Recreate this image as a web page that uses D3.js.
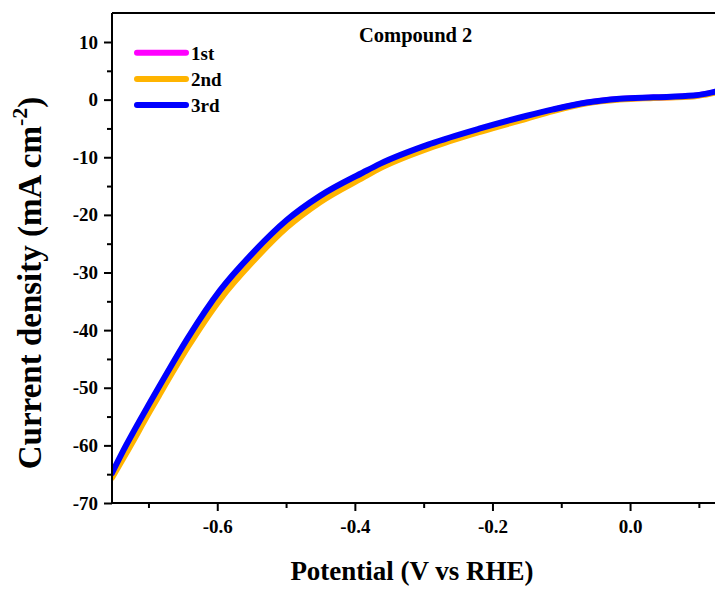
<!DOCTYPE html>
<html>
<head>
<meta charset="utf-8">
<script src="https://cdn.jsdelivr.net/npm/d3@7"></script>
<style>
  body { margin: 0; background: #fff; }
  svg { display: block; font-family: "Liberation Serif", "Times New Roman", serif; font-weight: bold; }
</style>
</head>
<body>
<div id="chart"></div>
<script>
// potentials (V vs RHE)
const potential = [-0.753, -0.733, -0.698, -0.684, -0.642, -0.596, -0.5475, -0.499, -0.4506,
  -0.3876, -0.363, -0.291, -0.218, -0.150, -0.112, -0.063, -0.015, 0.034, 0.092, 0.111, 0.124];
// current density (mA cm-2) per cycle
const cycle1 = [-65.2, -60.8, -53.3, -50.4, -42.0, -33.9, -27.2, -21.5, -17.2,
  -13.0, -11.4, -8.0, -5.3, -3.0, -1.8, -0.55, 0.1, 0.35, 0.62, 1.0, 1.3];
const cycle2 = [-65.6, -61.5, -54.1, -51.2, -42.8, -34.7, -28.0, -22.2, -17.8,
  -13.5, -11.9, -8.4, -5.6, -3.3, -2.0, -0.65, 0.0, 0.3, 0.55, 0.9, 1.2];
const cycle3 = [-64.8, -60.1, -52.6, -49.7, -41.2, -33.1, -26.5, -20.9, -16.7,
  -12.6, -11.1, -7.7, -5.0, -2.8, -1.7, -0.5, 0.15, 0.4, 0.7, 1.05, 1.4];

const seriesNames = ['1st', '2nd', '3rd'];
const seriesColors = ['#ff00ff', '#ffb400', '#0000ff'];
const seriesValues = [cycle1, cycle2, cycle3];

const xMajor = [-0.6, -0.4, -0.2, 0.0];
const xMinor = [-0.7, -0.5, -0.3, -0.1, 0.1];
const yMajor = [10, 0, -10, -20, -30, -40, -50, -60, -70];
const yMinor = [5, -5, -15, -25, -35, -45, -55, -65];

const width = 715, height = 589;
const plotLeft = 112, plotTop = 13, plotBottom = 503;

const x = d3.scaleLinear().domain([-0.753, 0.2]).range([plotLeft, plotLeft + 0.953 * 688]);
const y = d3.scaleLinear().domain([-70, 15]).range([plotBottom, plotBottom - 85 * 5.7625]);

// plain hyphen for negatives, like the original
const hyphen = f => d => f(d).replace('\u2212', '-');

const svg = d3.select('#chart').append('svg')
  .attr('width', width).attr('height', height);

svg.append('clipPath').attr('id', 'plotClip')
  .append('rect').attr('x', plotLeft).attr('y', plotTop)
  .attr('width', width - plotLeft).attr('height', plotBottom - plotTop);

// curves, 1st drawn first so 3rd sits on top
const line = d3.line()
  .x(d => x(d[0])).y(d => y(d[1]))
  .curve(d3.curveMonotoneX);

const curves = svg.append('g').attr('clip-path', 'url(#plotClip)');
seriesValues.forEach((vals, i) => {
  curves.append('path')
    .datum(potential.map((p, k) => [p, vals[k]]))
    .attr('d', line)
    .attr('fill', 'none')
    .attr('stroke', seriesColors[i])
    .attr('stroke-width', 6)
    .attr('stroke-linecap', 'round')
    .attr('stroke-linejoin', 'round');
});

// frame
svg.append('line').attr('x1', plotLeft).attr('x2', width).attr('y1', plotTop).attr('y2', plotTop)
  .attr('stroke', '#000').attr('stroke-width', 2);

// x axis
const xAxis = svg.append('g').attr('transform', `translate(0,${plotBottom})`)
  .call(d3.axisBottom(x).tickValues(xMajor).tickFormat(hyphen(d3.format('.1f'))).tickSize(8).tickPadding(9));
svg.append('g').attr('transform', `translate(0,${plotBottom})`)
  .call(d3.axisBottom(x).tickValues(xMinor).tickFormat('').tickSize(5))
  .call(g => g.select('.domain').remove());

// y axis
const yAxis = svg.append('g').attr('transform', `translate(${plotLeft},0)`)
  .call(d3.axisLeft(y).tickValues(yMajor).tickFormat(hyphen(d3.format('d'))).tickSize(8).tickPadding(6));
svg.append('g').attr('transform', `translate(${plotLeft},0)`)
  .call(d3.axisLeft(y).tickValues(yMinor).tickFormat('').tickSize(5))
  .call(g => g.select('.domain').remove());

xAxis.select('.domain').attr('d', `M${plotLeft},0H${width}`);
yAxis.select('.domain').attr('d', `M0,${plotTop}V${plotBottom}`);

svg.selectAll('.domain').attr('stroke-width', 2);
svg.selectAll('.tick line').attr('stroke-width', 2);
svg.selectAll('.tick text')
  .attr('font-family', '"Liberation Serif", serif')
  .attr('font-weight', 'bold')
  .attr('font-size', 19)
  .attr('fill', '#000');

// axis titles
svg.append('text')
  .attr('x', 412).attr('y', 580)
  .attr('text-anchor', 'middle')
  .attr('font-size', 27)
  .text('Potential (V vs RHE)');

const yTitle = svg.append('text')
  .attr('transform', 'translate(41,283) rotate(-90)')
  .attr('text-anchor', 'middle')
  .attr('font-size', 33);
yTitle.append('tspan').text('Current density (mA cm');
yTitle.append('tspan').attr('font-size', 22).attr('dy', -14).text('-2');
yTitle.append('tspan').attr('dy', 14).text(')');

// panel label
svg.append('text')
  .attr('x', 359).attr('y', 42)
  .attr('font-size', 20.5)
  .text('Compound 2');

// legend
const legend = svg.append('g');
seriesNames.forEach((name, i) => {
  const ly = 52.7 + i * 26.2;
  legend.append('line')
    .attr('x1', 137).attr('x2', 186).attr('y1', ly).attr('y2', ly)
    .attr('stroke', seriesColors[i]).attr('stroke-width', 6).attr('stroke-linecap', 'round');
  legend.append('text')
    .attr('x', 191).attr('y', ly + 7)
    .attr('font-size', 19)
    .text(name);
});
</script>
</body>
</html>
